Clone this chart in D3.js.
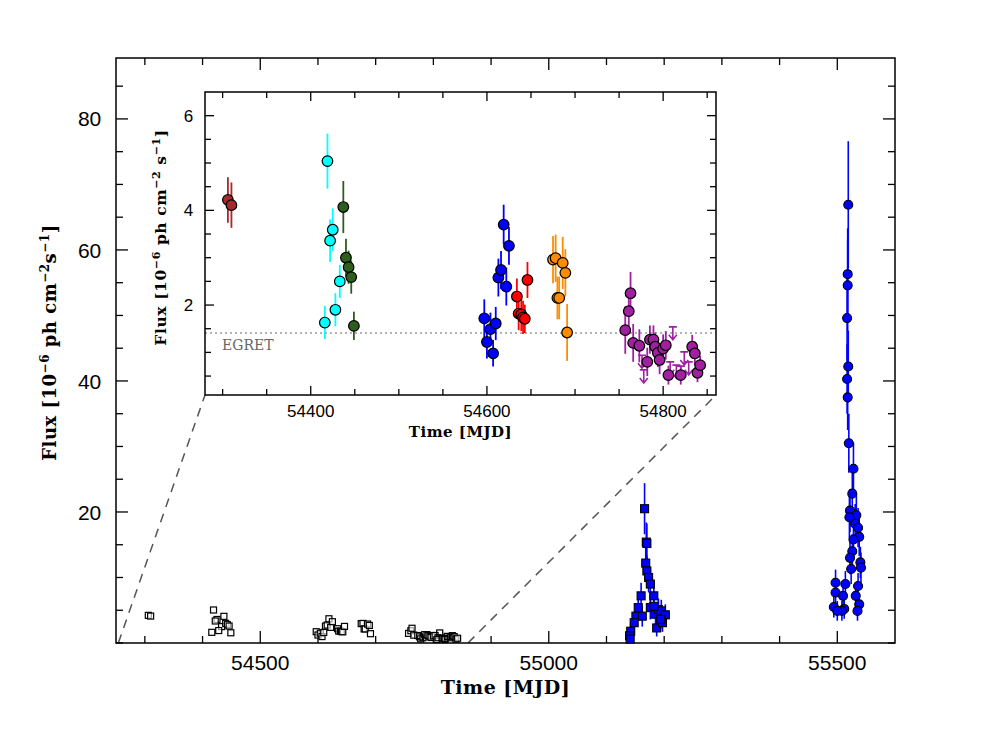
<!DOCTYPE html>
<html><head><meta charset="utf-8">
<script src="https://cdn.jsdelivr.net/npm/d3@7"></script>
<style>body{margin:0;background:#fff}</style></head>
<body><svg id="c" width="984" height="736"></svg>
<script>
// ---- data (inset, 10^-6 ph cm^-2 s^-1) ----
const brownT=[54306,54310], brownF=[4.22,4.11], brownE=[0.48,0.48];
const cyanT=[54419,54425,54422,54433,54428,54416], cyanF=[5.04,3.59,3.36,2.50,1.90,1.63], cyanE=[0.58,0.45,0.45,0.35,0.35,0.35];
const greenT=[54437,54440,54443,54446,54449], greenF=[4.07,3.0,2.80,2.59,1.56], greenE=[0.55,0.4,0.35,0.35,0.3];
const blueT=[54597,54600,54604,54607,54610,54613,54616,54619,54622,54625], blueF=[1.72,1.22,1.49,0.98,1.61,2.58,2.74,3.70,2.39,3.25], blueE=[0.4,0.35,0.35,0.28,0.35,0.4,0.4,0.42,0.4,0.4];
const redT=[54634,54636,54639,54641,54643,54646], redF=[2.18,1.82,1.80,1.74,1.71,2.53], redE=[0.38,0.35,0.35,0.35,0.3,0.38];
const orangeT=[54675,54678,54680,54682,54686,54689,54691], orangeF=[2.96,2.99,2.15,2.15,2.89,2.68,1.42], orangeE=[0.5,0.5,0.45,0.45,0.55,0.5,0.6];
const purpleT=[54757,54761,54763,54766,54773,54782,54785,54789,54791,54794,54796,54800,54803,54806,54820,54833,54836,54839,54842], purpleF=[1.47,1.87,2.25,1.20,1.14,0.80,1.27,1.27,1.12,0.99,0.84,1.08,1.15,0.52,0.52,1.12,0.98,0.57,0.73], purpleE=[0.5,0.4,0.45,0.4,0.35,0.3,0.3,0.3,0.3,0.3,0.3,0.3,0.3,0.2,0.2,0.25,0.25,0.2,0.2];
const ulT=[54776,54778,54811,54808,54815,54820,54824,54829], ulF=[0.94,0.63,1.54,0.80,0.73,0.71,1.01,0.80];
const egret=1.41;
// ---- data (main plot flares) ----
const flare1T=[55166,55169,55170,55168,55170,55173,55176,55182,55160,55176,55185,55190,55195,55202,55187,55197,55155,55151,55148,55142,55140,55141,55162,55182,55194];
const flare1F=[20.5,15.4,15.2,12.2,11.0,10.0,9.0,7.2,7.2,5.4,4.4,5.1,4.9,4.3,2.3,3.1,5.4,4.1,3.1,1.8,1.1,0.6,4.1,5.6,3.6];
const flare1E=[3.9,3.0,3.0,2.6,2.4,2.3,2.2,2.0,2.0,1.8,1.6,1.7,1.7,1.6,1.3,1.4,1.8,1.6,1.4,1.2,1.0,0.8,1.6,1.8,1.5];
const flare2T=[55519,55518,55518,55517,55519,55517,55518,55520,55528,55526,55522,55533,55521,55531,55536,55538,55528,55526,55522,55524,55540,55541,55536,55497,55497,55514,55510,55532,55494,55512,55508,55538,55535,55500];
const flare2F=[66.9,56.3,54.6,49.6,42.2,40.3,37.5,30.5,26.6,22.8,20.2,19.5,19.2,18.2,17.6,16.2,15.8,14.0,13.0,11.3,12.3,11.5,8.7,9.2,7.7,9.0,7.2,7.2,5.5,5.2,4.9,5.9,4.9,4.9];
const flare2E=[9.7,7,7,6.5,5.5,5.3,5,4.5,4,3.6,3.3,3.2,3.2,3,3,2.9,2.8,2.6,2.5,2.3,2.4,2.3,2,2,1.8,2,1.8,1.8,1.6,1.5,1.5,1.6,1.5,1.5];
const mainXTicks=[54500,55000,55500], mainYTicks=[20,40,60,80];
const insetXTicks=[54400,54600,54800], insetYTicks=[2,4,6];

const svg=d3.select("#c");
const M={l:116,r:895,t:58,b:643};
const I={l:205,r:716,t:92,b:395};
const x=d3.scaleLinear().domain([54250,55600]).range([M.l,M.r]);
const y=d3.scaleLinear().domain([0,89.3]).range([M.b,M.t]);
const xi=d3.scaleLinear().domain([54280,54860]).range([I.l,I.r]);
const yi=d3.scaleLinear().domain([0.1,6.5]).range([I.b,I.t]);
const TF="DejaVu Serif, serif";

function frame(g,X,Y,B,xt,yt,xminor,yminor,fs,tl,tlm){
  g.append("rect").attr("x",B.l).attr("y",B.t).attr("width",B.r-B.l).attr("height",B.b-B.t).attr("fill","none").attr("stroke","#000").attr("stroke-width",1.5);
  const xa=d3.range(Math.ceil(X.domain()[0]/xminor)*xminor,X.domain()[1],xminor);
  const ya=d3.range(Math.ceil(Y.domain()[0]/yminor)*yminor,Y.domain()[1],yminor);
  xa.forEach(v=>{const L=xt.includes(v)?tl:tlm;
    g.append("line").attr("x1",X(v)).attr("x2",X(v)).attr("y1",B.b).attr("y2",B.b-L).attr("stroke","#000").attr("stroke-width",1.3);
    g.append("line").attr("x1",X(v)).attr("x2",X(v)).attr("y1",B.t).attr("y2",B.t+L).attr("stroke","#000").attr("stroke-width",1.3);});
  ya.forEach(v=>{const L=yt.includes(+v.toFixed(2))?tl:tlm;
    g.append("line").attr("y1",Y(v)).attr("y2",Y(v)).attr("x1",B.l).attr("x2",B.l+L).attr("stroke","#000").attr("stroke-width",1.3);
    g.append("line").attr("y1",Y(v)).attr("y2",Y(v)).attr("x1",B.r).attr("x2",B.r-L).attr("stroke","#000").attr("stroke-width",1.3);});
  xt.forEach(v=>g.append("text").attr("x",X(v)).attr("y",B.b+fs*1.3).attr("text-anchor","middle").attr("font-family","Liberation Sans, Arial").attr("font-size",fs).text(v));
  yt.forEach(v=>g.append("text").attr("x",B.l-fs*0.7).attr("y",Y(v)+fs*0.36).attr("text-anchor","end").attr("font-family","Liberation Sans, Arial").attr("font-size",fs).text(v));
}

svg.append("line").attr("x1",x(54280)-15).attr("y1",M.b).attr("x2",I.l).attr("y2",I.b).attr("stroke","#555").attr("stroke-width",1.5).attr("stroke-dasharray","9,7");
svg.append("line").attr("x1",x(54860)).attr("y1",M.b).attr("x2",I.r).attr("y2",I.b).attr("stroke","#555").attr("stroke-width",1.5).attr("stroke-dasharray","9,7");

const gm=svg.append("g");
frame(gm,x,y,M,mainXTicks,mainYTicks,100,5,21,12,7);
gm.append("text").attr("x",(M.l+M.r)/2).attr("y",694).attr("text-anchor","middle").attr("font-family",TF).attr("font-weight","bold").attr("font-size",19).attr("letter-spacing",0.5).text("Time [MJD]");
const yl=gm.append("text").attr("transform",`translate(56,${(M.t+M.b)/2 - 8}) rotate(-90)`).attr("text-anchor","middle").attr("font-family",TF).attr("font-weight","bold").attr("font-size",18).attr("letter-spacing",0.5);
yl.append("tspan").text("Flux [10");yl.append("tspan").attr("dy",-7).attr("font-size",12).text("−6");
yl.append("tspan").attr("dy",7).text(" ph cm");yl.append("tspan").attr("dy",-7).attr("font-size",12).text("−2");
yl.append("tspan").attr("dy",7).text("s");yl.append("tspan").attr("dy",-7).attr("font-size",12).text("−1");
yl.append("tspan").attr("dy",7).text("]");

const allT=[].concat(brownT,cyanT,greenT,blueT,redT,orangeT,purpleT), allF=[].concat(brownF,cyanF,greenF,blueF,redF,orangeF,purpleF);
allT.forEach((t,i)=>gm.append("rect").attr("x",x(t)-3).attr("y",y(allF[i])-3).attr("width",6).attr("height",6).attr("fill","#fff").attr("fill-opacity",0.6).attr("stroke","#000").attr("stroke-width",1.2));
ulT.forEach((t,i)=>gm.append("rect").attr("x",x(t)-3).attr("y",y(ulF[i])-3).attr("width",6).attr("height",6).attr("fill","none").attr("stroke","#000").attr("stroke-width",1.2));
flare1T.forEach((t,i)=>gm.append("line").attr("x1",x(t)).attr("x2",x(t)).attr("y1",y(Math.max(0,flare1F[i]-flare1E[i]))).attr("y2",y(flare1F[i]+flare1E[i])).attr("stroke","#0000ff").attr("stroke-width",1.6));
flare1T.forEach((t,i)=>gm.append("rect").attr("x",x(t)-4).attr("y",y(flare1F[i])-4).attr("width",8).attr("height",8).attr("fill","#0000ff").attr("stroke","#000").attr("stroke-width",1.1));
flare2T.forEach((t,i)=>gm.append("line").attr("x1",x(t)).attr("x2",x(t)).attr("y1",y(Math.max(0,flare2F[i]-flare2E[i]))).attr("y2",y(flare2F[i]+flare2E[i])).attr("stroke","#0000ff").attr("stroke-width",1.6));
flare2T.forEach((t,i)=>gm.append("circle").attr("cx",x(t)).attr("cy",y(flare2F[i])).attr("r",4.5).attr("fill","#0000ff").attr("stroke","#000").attr("stroke-width",1.1));

const gi=svg.append("g");
gi.append("rect").attr("x",I.l).attr("y",I.t).attr("width",I.r-I.l).attr("height",I.b-I.t).attr("fill","#fff");
gi.append("line").attr("x1",I.l).attr("x2",I.r).attr("y1",yi(egret)).attr("y2",yi(egret)).attr("stroke","#666").attr("stroke-width",1.2).attr("stroke-dasharray","2,3");
gi.append("text").attr("x",I.l+17).attr("y",yi(egret)+17).attr("font-family",TF).attr("font-size",14).attr("fill","#666").text("EGRET");
frame(gi,xi,yi,I,insetXTicks,insetYTicks,50,0.5,17,9,6);
gi.append("text").attr("x",(I.l+I.r)/2).attr("y",437).attr("text-anchor","middle").attr("font-family",TF).attr("font-weight","bold").attr("font-size",15).attr("letter-spacing",0.5).text("Time [MJD]");
const yl2=gi.append("text").attr("transform",`translate(166,${(I.t+I.b)/2 - 6}) rotate(-90)`).attr("text-anchor","middle").attr("font-family",TF).attr("font-weight","bold").attr("font-size",15.5).attr("letter-spacing",0.6);
yl2.append("tspan").text("Flux [10");yl2.append("tspan").attr("dy",-6).attr("font-size",11).text("−6");
yl2.append("tspan").attr("dy",6).text(" ph cm");yl2.append("tspan").attr("dy",-6).attr("font-size",11).text("−2");
yl2.append("tspan").attr("dy",6).text(" s");yl2.append("tspan").attr("dy",-6).attr("font-size",11).text("−1");
yl2.append("tspan").attr("dy",6).text("]");

const series=[[brownT,brownF,brownE,"#a52a2a"],[cyanT,cyanF,cyanE,"#00ffff"],[greenT,greenF,greenE,"#2e5e1e"],[blueT,blueF,blueE,"#0000ff"],[redT,redF,redE,"#ff0000"],[orangeT,orangeF,orangeE,"#ff8c00"],[purpleT,purpleF,purpleE,"#a020a0"]];
series.forEach(([T,F,E,c])=>{
  T.forEach((t,i)=>gi.append("line").attr("x1",xi(t)).attr("x2",xi(t)).attr("y1",yi(F[i]-E[i])).attr("y2",yi(F[i]+E[i])).attr("stroke",c).attr("stroke-width",1.8));
});
ulT.forEach((t,i)=>{const X=xi(ulT[i]),Y=yi(ulF[i]);
  gi.append("path").attr("d",`M${X-4},${Y}H${X+4}M${X},${Y}V${Y+13}M${X-4},${Y+8}L${X},${Y+13}L${X+4},${Y+8}`).attr("fill","none").attr("stroke","#a020a0").attr("stroke-width",1.6);});
series.forEach(([T,F,E,c])=>{
  T.forEach((t,i)=>gi.append("circle").attr("cx",xi(t)).attr("cy",yi(F[i])).attr("r",5.3).attr("fill",c).attr("stroke","#000").attr("stroke-width",1.2));
});
</script></body></html>
